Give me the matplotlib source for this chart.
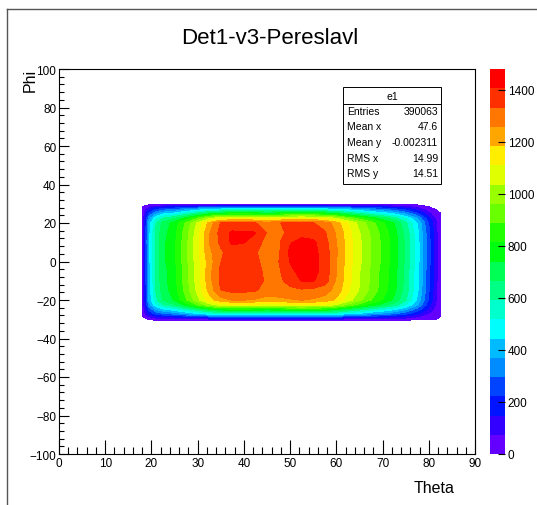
import colorsys
import numpy as np
import matplotlib
matplotlib.use("Agg")
import matplotlib.pyplot as plt
from matplotlib.colors import ListedColormap, BoundaryNorm
from matplotlib.cm import ScalarMappable
from matplotlib.lines import Line2D
from matplotlib.patches import Rectangle
from matplotlib.ticker import MultipleLocator

plt.rcParams['font.family'] = ['Liberation Sans', 'DejaVu Sans']

# bin grid (theta across, phi down the rows)
theta = [18, 19.5, 21, 22.5, 25, 27.5, 30, 32.5, 35, 37.5, 40, 42.5, 45, 47.5,
         50, 52.5, 55, 57.5, 60, 62.5, 65, 67.5, 70, 72.5, 75, 77.5, 80, 81.5, 82.6]
phi = [-30.4, -28.5, -27, -25, -22.5, -20, -15, -10, -5, 0, 5, 10, 15, 20,
       22.5, 25, 27, 28.5, 29.4]
counts = [
    [0] * 29,
    [0, 85, 140, 160, 180, 210, 245, 270, 290, 300, 300, 300, 290, 295, 305, 305, 305, 300, 280, 260, 240, 210, 195, 170, 135, 85, 30, 8, 0],
    [0, 170, 250, 295, 330, 390, 445, 500, 535, 550, 550, 550, 535, 545, 560, 560, 560, 550, 515, 470, 435, 390, 355, 310, 250, 170, 70, 25, 0],
    [0, 240, 360, 420, 470, 550, 630, 710, 760, 780, 780, 770, 760, 770, 790, 790, 790, 780, 730, 670, 610, 550, 500, 450, 370, 260, 120, 45, 0],
    [0, 340, 500, 590, 660, 770, 890, 1000, 1070, 1100, 1100, 1090, 1070, 1080, 1100, 1110, 1100, 1090, 1030, 940, 860, 780, 710, 630, 520, 380, 180, 70, 0],
    [0, 380, 570, 670, 750, 880, 1010, 1150, 1230, 1260, 1260, 1250, 1230, 1240, 1250, 1260, 1250, 1230, 1170, 1070, 980, 890, 810, 720, 600, 430, 210, 85, 0],
    [0, 400, 600, 700, 780, 920, 1060, 1210, 1330, 1350, 1350, 1340, 1300, 1300, 1320, 1320, 1310, 1290, 1230, 1120, 1030, 940, 850, 760, 630, 460, 230, 95, 0],
    [0, 410, 610, 710, 790, 930, 1070, 1230, 1350, 1390, 1380, 1360, 1320, 1320, 1350, 1410, 1410, 1370, 1250, 1140, 1040, 950, 860, 770, 640, 470, 240, 100, 0],
    [0, 410, 610, 710, 790, 930, 1070, 1230, 1350, 1390, 1390, 1360, 1310, 1320, 1390, 1430, 1430, 1380, 1260, 1140, 1040, 950, 860, 770, 640, 470, 240, 100, 0],
    [0, 420, 620, 720, 800, 940, 1080, 1220, 1330, 1380, 1370, 1350, 1300, 1330, 1410, 1440, 1430, 1380, 1260, 1150, 1050, 960, 870, 780, 650, 480, 250, 110, 0],
    [0, 420, 620, 720, 800, 950, 1090, 1240, 1320, 1370, 1360, 1340, 1290, 1320, 1420, 1440, 1430, 1370, 1270, 1150, 1050, 960, 870, 780, 650, 480, 250, 110, 0],
    [0, 430, 620, 720, 800, 940, 1090, 1260, 1350, 1420, 1410, 1360, 1310, 1320, 1400, 1430, 1420, 1360, 1260, 1150, 1050, 960, 870, 780, 650, 480, 250, 110, 0],
    [0, 420, 610, 710, 790, 930, 1080, 1250, 1360, 1420, 1415, 1410, 1330, 1300, 1360, 1380, 1370, 1340, 1250, 1140, 1040, 950, 860, 770, 640, 470, 240, 100, 0],
    [0, 400, 590, 690, 770, 900, 1050, 1210, 1335, 1340, 1340, 1335, 1290, 1330, 1340, 1340, 1335, 1300, 1220, 1110, 1010, 920, 830, 740, 610, 440, 220, 90, 0],
    [0, 340, 500, 590, 660, 770, 890, 1010, 1080, 1100, 1100, 1090, 1070, 1090, 1110, 1120, 1110, 1090, 1030, 940, 860, 780, 700, 620, 510, 370, 170, 60, 0],
    [0, 230, 350, 420, 460, 540, 620, 710, 760, 780, 780, 770, 760, 770, 790, 790, 790, 770, 720, 650, 590, 530, 480, 420, 340, 230, 90, 30, 0],
    [0, 140, 230, 270, 305, 355, 405, 455, 490, 500, 500, 500, 490, 495, 510, 510, 510, 500, 470, 425, 380, 345, 310, 265, 205, 125, 30, 0, 0],
    [0, 60, 105, 125, 145, 170, 195, 225, 240, 245, 245, 245, 240, 240, 245, 245, 245, 240, 225, 200, 180, 160, 140, 115, 85, 45, 0, 0, 0],
    [0] * 29,
]
zmax = 1480

stat_names = ['Entries', 'Mean x', 'Mean y', 'RMS x', 'RMS y']
stat_values = ['390063', '47.6', '-0.002311', '14.99', '14.51']

# ROOT "pretty" palette: 50 HLS colours violet -> red, 20 contour bands
pretty = [colorsys.hls_to_rgb((280 - (i + 1) * 5.6) / 360, 0.5, 1) for i in range(50)]
band_cols = [pretty[int(0.01 + (k + 0.99) * 50 / 20)] for k in range(20)]
bounds = np.linspace(0, zmax, 21)
levels = bounds.copy()
levels[0] = 0.5   # leave empty bins white

W, H = 537, 506
fig = plt.figure(figsize=(W / 100, H / 100), dpi=100)

def fx(px):
    return px / W

def fy(py):
    return 1 - py / H

ax = fig.add_axes([fx(59), fy(455), fx(475) - fx(59), fy(70) - fy(455)])
ax.contourf(theta, phi, np.array(counts, dtype=float), levels=levels, colors=band_cols)
ax.set_xlim(0, 90)
ax.set_ylim(-100, 100)
ax.xaxis.set_major_locator(MultipleLocator(10))
ax.xaxis.set_minor_locator(MultipleLocator(2))
ax.yaxis.set_major_locator(MultipleLocator(20))
ax.yaxis.set_minor_locator(MultipleLocator(4))
ax.tick_params(which='both', direction='in', top=False, right=False, width=0.8,
               labelsize=8.5, pad=2)
ax.tick_params(axis='x', which='major', length=10)
ax.tick_params(axis='x', which='minor', length=5)
ax.tick_params(axis='y', which='major', length=7.5)
ax.tick_params(axis='y', which='minor', length=3.8)
for s in ax.spines.values():
    s.set_linewidth(0.8)

cax = fig.add_axes([fx(490), fy(455), fx(505) - fx(490), fy(70) - fy(455)])
sm = ScalarMappable(norm=BoundaryNorm(bounds, 20), cmap=ListedColormap(band_cols))
cb = fig.colorbar(sm, cax=cax, ticks=range(0, 1401, 200))
cb.outline.set_visible(False)
cb.minorticks_off()
cax.tick_params(direction='in', length=5, width=0.8, labelsize=8.5, pad=2)

fig.text(fx(270), fy(38), 'Det1-v3-Pereslavl', ha='center', va='center', fontsize=16)
fig.text(fx(30), fy(80), 'Phi', rotation=90, ha='center', va='center', fontsize=11.5)
fig.text(fx(434), fy(489), 'Theta', ha='center', va='center', fontsize=11.5)

# stats box
fig.add_artist(Rectangle((fx(343), fy(185)), fx(441) - fx(343), fy(88) - fy(185),
                         transform=fig.transFigure, facecolor='white',
                         edgecolor='black', linewidth=0.7, zorder=5))
fig.add_artist(Line2D([fx(343), fx(441)], [fy(105), fy(105)], color='black',
                      linewidth=0.7, zorder=6))
fig.text(fx(392), fy(97), 'e1', ha='center', va='center', fontsize=7.5, zorder=7)
for i, (n, v) in enumerate(zip(stat_names, stat_values)):
    yy = 112 + i * 15.5
    fig.text(fx(347), fy(yy), n, ha='left', va='center', fontsize=7.5, zorder=7)
    fig.text(fx(438), fy(yy), v, ha='right', va='center', fontsize=7.5, zorder=7)

# canvas border
fig.add_artist(Line2D([fx(7), fx(7)], [fy(10), 0], color='#555555', linewidth=1))
fig.add_artist(Line2D([fx(7), 1], [fy(10), fy(10)], color='#555555', linewidth=1))

fig.savefig('out.png', dpi=100)
